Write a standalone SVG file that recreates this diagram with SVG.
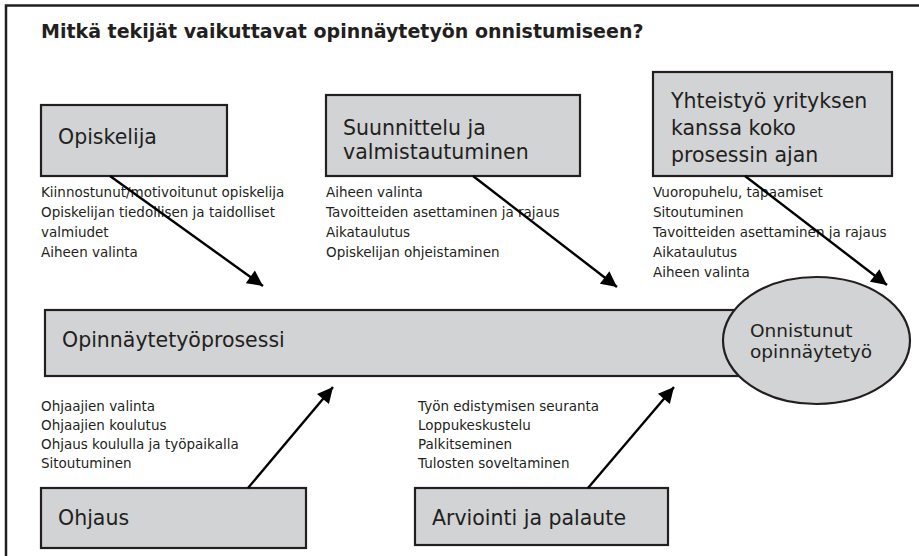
<svg xmlns="http://www.w3.org/2000/svg" width="919" height="556" viewBox="0 0 919 556">
  <defs>
    <style>
      .box { fill: #d1d3d4; stroke: #231f20; stroke-width: 2.2; }
      .lbl { font-family: "DejaVu Sans", "Liberation Sans", sans-serif; font-size: 20.5px; fill: #231f20; }
      .lbl2 { font-family: "DejaVu Sans", "Liberation Sans", sans-serif; font-size: 18.5px; fill: #231f20; }
      .item { font-family: "DejaVu Sans", "Liberation Sans", sans-serif; font-size: 13.5px; fill: #231f20; }
      .title { font-family: "DejaVu Sans", "Liberation Sans", sans-serif; font-size: 19px; font-weight: bold; fill: #231f20; }
      .arrow { stroke: #000; stroke-width: 2.4; fill: none; marker-end: url(#ah); }
      .frame { stroke: #231f20; stroke-width: 2.5; fill: none; }
    </style>
    <marker id="ah" viewBox="0 0 10 10" refX="10" refY="5" markerWidth="8" markerHeight="6.5" markerUnits="strokeWidth" orient="auto">
      <path d="M0,0 L10,5 L0,10 Z" fill="#000"/>
    </marker>
  </defs>

  <rect width="919" height="556" fill="#fff"/>
  <path class="frame" d="M6,556 L6,5.5 L919,5.5"/>

  <text class="title" x="41" y="38">Mitkä tekijät vaikuttavat opinnäytetyön onnistumiseen?</text>

  <g id="opinnaytetyoprosessi">
    <rect class="box" x="45" y="310" width="700" height="66"/>
    <text class="lbl" x="62" y="347">Opinnäytetyöprosessi</text>
  </g>

  <g id="onnistunut">
    <ellipse class="box" cx="816.5" cy="340.5" rx="93.5" ry="63.5"/>
    <text class="lbl2" x="750" y="337">Onnistunut</text>
    <text class="lbl2" x="750" y="358">opinnäytetyö</text>
  </g>

  <g id="opiskelija">
    <rect class="box" x="41" y="105" width="186" height="71"/>
    <text class="lbl" x="58" y="143.5">Opiskelija</text>
    <text class="item" x="41" y="197">Kiinnostunut/motivoitunut opiskelija</text>
    <text class="item" x="41" y="217">Opiskelijan tiedollisen ja taidolliset</text>
    <text class="item" x="41" y="237">valmiudet</text>
    <text class="item" x="41" y="257">Aiheen valinta</text>
  </g>

  <g id="suunnittelu">
    <rect class="box" x="326" y="95" width="254" height="81"/>
    <text class="lbl" x="343" y="135">Suunnittelu ja</text>
    <text class="lbl" x="343" y="159">valmistautuminen</text>
    <text class="item" x="326" y="197">Aiheen valinta</text>
    <text class="item" x="326" y="217">Tavoitteiden asettaminen ja rajaus</text>
    <text class="item" x="326" y="237">Aikataulutus</text>
    <text class="item" x="326" y="257">Opiskelijan ohjeistaminen</text>
  </g>

  <g id="yhteistyo">
    <rect class="box" x="653" y="72" width="239" height="104"/>
    <text class="lbl" x="671" y="108">Yhteistyö yrityksen</text>
    <text class="lbl" x="671" y="135">kanssa koko</text>
    <text class="lbl" x="671" y="162">prosessin ajan</text>
    <text class="item" x="653" y="197">Vuoropuhelu, tapaamiset</text>
    <text class="item" x="653" y="217">Sitoutuminen</text>
    <text class="item" x="653" y="237">Tavoitteiden asettaminen ja rajaus</text>
    <text class="item" x="653" y="257">Aikataulutus</text>
    <text class="item" x="653" y="277">Aiheen valinta</text>
  </g>

  <g id="ohjaus">
    <rect class="box" x="41" y="488" width="265" height="60"/>
    <text class="lbl" x="58" y="525">Ohjaus</text>
    <text class="item" x="41" y="411">Ohjaajien valinta</text>
    <text class="item" x="41" y="430">Ohjaajien koulutus</text>
    <text class="item" x="41" y="449">Ohjaus koululla ja työpaikalla</text>
    <text class="item" x="41" y="468">Sitoutuminen</text>
  </g>

  <g id="arviointi">
    <rect class="box" x="415" y="488" width="253" height="57"/>
    <text class="lbl" x="432" y="525">Arviointi ja palaute</text>
    <text class="item" x="418" y="411">Työn edistymisen seuranta</text>
    <text class="item" x="418" y="430">Loppukeskustelu</text>
    <text class="item" x="418" y="449">Palkitseminen</text>
    <text class="item" x="418" y="468">Tulosten soveltaminen</text>
  </g>

  <g id="connectors">
    <line class="arrow" x1="110" y1="176" x2="263" y2="286"/>
    <line class="arrow" x1="473" y1="176" x2="617" y2="287"/>
    <line class="arrow" x1="745" y1="176" x2="887" y2="285"/>
    <line class="arrow" x1="248" y1="488" x2="333" y2="387"/>
    <line class="arrow" x1="588" y1="488" x2="674" y2="387"/>
  </g>
</svg>
